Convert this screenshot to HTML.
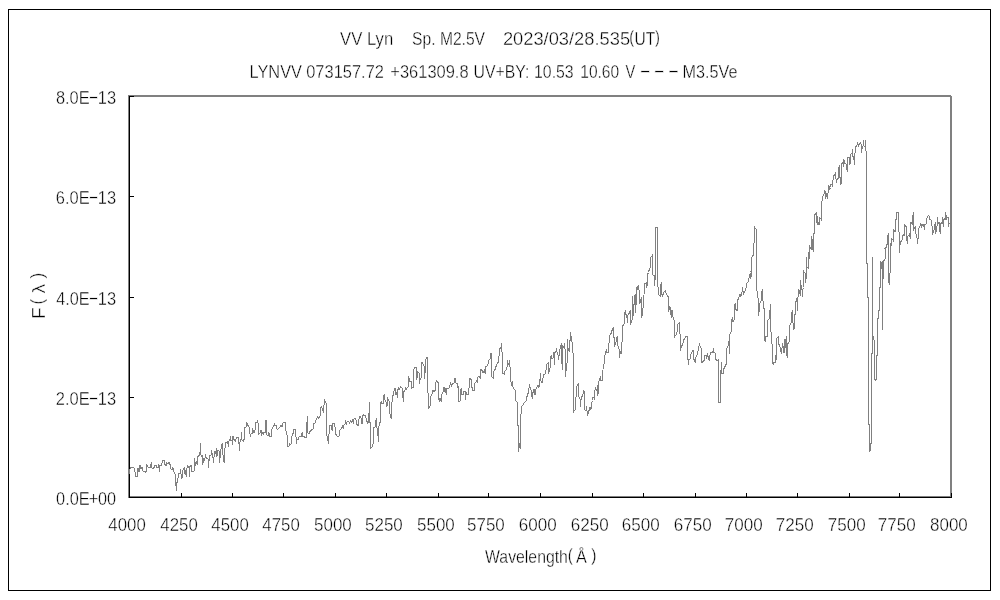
<!DOCTYPE html>
<html lang="en"><head><meta charset="utf-8"><title>VV Lyn spectrum</title>
<style>
html,body{margin:0;padding:0;background:#fff;}
body{width:1000px;height:600px;overflow:hidden;}
svg{display:block;}
text{font-family:"Liberation Sans", "IPAGothic", sans-serif;font-size:18.5px;fill:#000;stroke:#fff;stroke-width:0.4px;white-space:pre;}
svg{filter:grayscale(1);}
</style></head><body>
<svg width="1000" height="600" viewBox="0 0 1000 600">
<rect x="0" y="0" width="1000" height="600" fill="#ffffff"/>
<g shape-rendering="crispEdges">
<rect x="8.5" y="9.5" width="982" height="581" fill="none" stroke="#000" stroke-width="1"/>
<rect x="128" y="95" width="823" height="2" fill="#808080"/>
<rect x="128" y="496" width="824" height="2" fill="#808080"/>
<rect x="128" y="95" width="2" height="403" fill="#808080"/>
<rect x="950" y="96" width="2" height="402" fill="#808080"/>
<rect x="129" y="96" width="1" height="402" fill="#000"/>
<rect x="129" y="497" width="823" height="1" fill="#000"/>
<rect x="129" y="96" width="5" height="1" fill="#000"/>
<rect x="129" y="196" width="5" height="1" fill="#000"/>
<rect x="129" y="297" width="5" height="1" fill="#000"/>
<rect x="129" y="397" width="5" height="1" fill="#000"/>
<rect x="129" y="497" width="5" height="1" fill="#000"/>
<rect x="129" y="493" width="1" height="5" fill="#000"/>
<rect x="181" y="493" width="1" height="5" fill="#000"/>
<rect x="232" y="493" width="1" height="5" fill="#000"/>
<rect x="283" y="493" width="1" height="5" fill="#000"/>
<rect x="335" y="493" width="1" height="5" fill="#000"/>
<rect x="386" y="493" width="1" height="5" fill="#000"/>
<rect x="438" y="493" width="1" height="5" fill="#000"/>
<rect x="488" y="493" width="1" height="5" fill="#000"/>
<rect x="540" y="493" width="1" height="5" fill="#000"/>
<rect x="592" y="493" width="1" height="5" fill="#000"/>
<rect x="643" y="493" width="1" height="5" fill="#000"/>
<rect x="695" y="493" width="1" height="5" fill="#000"/>
<rect x="746" y="493" width="1" height="5" fill="#000"/>
<rect x="797" y="493" width="1" height="5" fill="#000"/>
<rect x="849" y="493" width="1" height="5" fill="#000"/>
<rect x="899" y="493" width="1" height="5" fill="#000"/>
<rect x="951" y="493" width="1" height="5" fill="#000"/>
</g>
<polyline fill="none" stroke="#808080" stroke-width="1" stroke-linejoin="miter" shape-rendering="crispEdges" points="129,474.5 129.2,471 130.8,467.5 134,468 135,472 135.8,476.5 137.5,476.5 138,468 139,472 140,465.5 141,468.5 142,467.5 143,471 145,471.2 146,472.5 146.5,464.5 147.5,466 148.5,467.5 150.5,467.5 151.2,462.5 151.8,467.5 153,469 154,467.5 155,465.5 156,465 156.8,467.5 158.5,467.5 158.7,464.5 159.5,471.5 160,465 161.5,465 162.5,460.5 164.5,460.5 165,464.5 166,465.5 166.8,463 168,464 169,462.5 170,464.5 171,469 172,469.5 173,467.5 173.8,471.5 175,474 175.8,483 176.3,490.5 176.5,483 177.5,482 178.5,474 180,473 180.5,469.5 181.5,478.5 182.5,477 183,470 184.5,467.5 185,474 185.5,470 186.2,476.5 187,468 187.5,465.5 189,467.5 189.5,476.5 190,466.5 191,465 191.8,471 194,471 194.5,458.5 195.5,464.5 196.5,462 197.2,465 197.8,456.5 199,455.5 200,452.5 200.5,443 200.8,455 201.8,456.5 202.5,455.5 202.8,465 203.5,459 204.5,460 205.5,455.5 206.5,458 208,458.5 208.5,467.5 209.5,455 211,455 211.5,451.5 212.5,454 213.5,462.5 214.5,451.5 215.5,453 216.5,448.5 217,456.5 218,450.5 219,451 219.5,462.5 220.5,453 221.5,445 222.5,443 223,455 224.2,463 224.6,452 225.5,443 227.5,441.5 228.5,446.5 229,441 230.5,437.5 231,441 232,440 232.5,444.5 233,436.5 234,439.5 235.5,441.5 236.5,437.5 238.5,437.5 239,444 239.5,450.5 240,442 241,439.5 241.5,432.5 242,440 243.5,441 244.2,439 244.5,427.5 246,427 246.5,422 248,425.5 249,427 249.8,432.5 250.5,436.5 251.2,433 252,434 252.5,429.5 254,432.5 255,430 255.5,422.5 257,422 257.5,420 258,422.5 258.5,434.5 260,433.5 260.5,430.5 261.5,430.5 261.8,434.5 262.5,433 263.5,434.5 264,432.5 265.5,432.5 265.8,420.5 266.5,420.5 266.8,434.5 268,436 269,432.5 269.5,436.5 271.2,436.5 271.5,430.5 272.5,427.5 274,425.5 274.5,423 275,425.5 276,425.5 276.5,428.5 277.5,429.5 279,428 280,427 281,425.5 282,427 282.8,423.5 283.5,422.2 285,422.5 285.5,425 286,431 287,435 287.5,437.5 287.8,446.5 289,446 289.5,443.5 291,444.5 291.5,437.5 292.5,435 293.5,432 294,429.5 295.5,429.5 296,436.5 296.5,443.5 297,439 298.5,439 299,437 300,436 301.5,436 302.2,432.5 302.8,436.5 304.5,436.5 305,437.5 306.5,437.5 306.8,425 307.5,416 307.8,433 309,434 310,431.5 311.5,430 313,429.5 313.5,424 314.8,423.5 315,423 316,420 317.5,416.5 318.5,418 320,416.5 320.5,408 321.5,406.5 322.5,409.5 323.5,411.5 324,405 324.5,399.5 325.5,402.5 326.5,403.5 326.8,435 327.5,439 328.5,443.5 329,434 329.5,425.5 331,425 331.5,429 332.2,430 332.5,423.5 334,423.5 335,427 335.5,434 337,436 339,436.5 339.5,431 341,429 342.5,426.5 343.2,429 343.8,425 345,424 345.5,420.5 346.2,425 347,422 348.5,421.5 349.5,423 350.5,421 351.5,422.5 352.5,420 353.5,423.5 354,419 355,418.5 356,420 357,424.5 358.2,425.5 359,419 360,416.5 361,417.5 361.5,423.5 362.2,423.5 362.5,416 363.5,415 365,415.5 366,417.5 366.5,421 367.5,422 368,423.5 368.5,413.5 369.2,413 369.5,402 369.8,422 370.5,423.5 370.6,448 372,447 373,444 373.5,427.5 375,427 375.5,421.5 376.2,420 376.8,427 377.8,430 378.2,441.5 378.6,428 379.5,424 380.2,422 380.5,403 381.5,402 382.2,404 383.2,403.5 383.5,395.5 384.2,395 384.8,400 386,402 386.5,406.5 387.2,406 387.5,397.5 388.5,400 389.2,401.5 389.5,413 390.5,415 391.2,418.5 391.8,410 392.2,395.5 393.8,395 394.2,388 395.5,388.5 396,394.5 396.8,393 397.5,397.5 398,389.5 398.8,387.5 399.5,389 400.5,387 401.8,387.5 402.5,389.5 402.8,397 403.5,401.5 403.8,392 405,390 405.8,388 406.5,389 407.2,387.5 408.2,387 408.5,376.5 409.5,379.5 410,381.5 411.2,381.5 411.5,388.5 413.2,387.5 413.5,370 414.5,367.5 416.2,367.5 416.8,380 417.5,372 419,373 419.5,383.5 420.2,379 421.2,377.5 421.5,362.5 422.5,363 423.5,365.5 424.5,366.5 424.8,378.5 425.5,360 426.5,358 427.5,357.5 427.8,392.5 428.6,393.5 428.6,408.8 430.4,405 430.5,397.5 431.5,395 432.5,392.5 433,390.5 434,391.5 435.2,390.5 435.5,383.5 436.5,380.5 437.8,382.5 438.5,383 438.8,399.5 439.5,401.5 440,398 441.2,401.5 441.5,394.5 442.5,393 443.5,390.5 444,387.5 444.8,391 445.5,389.5 446.2,394.5 446.5,389 448,388.5 449.2,388 449.8,385.5 450.5,383.5 451.5,385.5 452.5,383.5 454,383 454.8,378.5 455.5,378.5 456,383 457.5,383.5 458,387.5 458.5,386.5 459,402 460.5,401.5 460.8,389 461.5,388.5 461.8,394.5 463.5,394 463.8,391.5 465,391 465.5,399.5 466,392 466.8,394.5 468.2,394.5 468.5,388.5 469.5,387.5 469.8,378.5 471,379.5 471.8,380.5 472,387.5 472.8,390.5 474.5,390.5 474.8,383.5 476,382 476.8,380.5 477.5,383 478,377 479.5,376.5 480.5,378.5 480.8,369.5 482,370.5 483,373 483.8,371.5 484.5,370 485.2,373.5 485.5,367 487,366 488,364.5 488.8,360 490,359 490.5,353.5 491.5,353.5 491.8,376.5 493.5,378.5 493.8,371.5 495,369.5 496.5,365 497.5,363 498.5,362 498.8,356.5 499.5,355.5 500,348.5 501,347 501.5,343 501.8,351.5 502.5,352.5 502.8,373.5 504.5,374 505,371 506.2,369.5 507,367.5 507.2,361.5 507.8,360.5 508.2,364.5 508.8,364.5 509.5,360 509.8,366.5 510.5,367.5 510.8,381.5 511.8,385.5 512.5,381.5 513,387 514.5,389.5 515.5,390.5 515.8,401 517,402 517.5,413 517.8,425.5 518.4,425.5 518.6,451.8 519.5,443.3 520.5,448.8 520.2,414.5 521,414 521.5,407 523,405 524.5,402.5 526,401.5 526.5,397.5 527.8,395 528.5,390 529.5,385.5 530.5,388 531.5,391.5 532.2,399 533,392.5 534,389 535,395 535.5,390.5 536.5,388 538,385 539,387.5 539.8,381.5 540.5,373.5 540.8,381 542,383 542.5,381.5 543.5,375 545,374 545.5,370.5 546.2,369.5 546.5,364.5 547.5,363.5 548.5,362.5 548.8,373.5 549.5,370 550.2,367.5 550.5,357 551.5,355.5 552,359 553.5,357.5 554,352.5 554.5,364.5 554.8,352.5 556,351.5 556.5,348.5 557.2,353.5 558.2,355 558.8,359.5 559.2,352.5 559.8,351.5 560.2,346.5 561,345 561.5,343.5 562,364 562.5,369.5 562.8,346 564,347.5 564.5,343.5 565,348.5 565.5,376.5 566.2,364.5 566.5,371 567,364 567.5,339.5 568,348.5 568.8,349.5 569.2,352 569.8,343 570.5,332 571,341 571.5,336.5 572,342 572.8,342.5 573.2,362 574,362.5 573.8,411.5 575.2,410 575.5,397.5 576.5,396.5 576.8,386.5 577.8,384.5 578.5,383.5 578.8,396.5 580,398.5 580.5,406.5 581.2,398 582,396.5 583,394.5 583.5,390 584.5,392.5 584.8,409.5 586,411 586.5,406.5 587.2,412.5 587.8,415.5 588.2,412 589.5,409.5 590,407 591,409.5 591.5,403.5 592.5,400.5 592.8,397.5 594,397.5 594.5,399.5 594.8,390.5 595.5,387.5 596.2,390.5 596.8,389 597.5,395.5 598,385 598.5,394 598.8,381.5 599.8,379.5 600.5,376 601,380.5 602.5,380.5 602.8,370 603.5,369.5 604.8,356 605.5,352.5 606.5,350 606.8,352 608.2,352 608.5,343.5 609.5,342.5 609.8,335 611,333.5 612,330.5 613.2,327.5 613.5,336.5 614.5,338.5 614.8,345.5 615.8,344 616.2,340 617.2,336.5 617.5,344.5 618.5,347.5 619.5,351 619.8,357.5 620.2,351.5 621.2,353 621.5,342.5 622.2,341.5 622.5,326.5 623.5,324.5 624.2,323.5 624.5,313 625.2,311.5 625.8,314.5 626.8,315.5 627.5,322.5 628,315 629,313.5 630.2,310.5 630.5,324.5 631.5,321.5 632.2,319.5 632.5,296 633.3,315.5 634.5,297 635.5,294 635.8,313 636.5,287.5 637.5,289 638.2,285.5 638.8,289.5 639.5,290.5 639.8,303 640.5,302 641.2,297.5 641.8,317.5 643.5,305 643.8,295 644.5,294.5 644.8,283.5 646.2,283 646.5,287.5 647.2,285.5 647.5,274.5 648.5,272.5 649.5,268.5 650.5,267.5 650.8,257.5 652.2,255.5 652.8,275 654.2,275.5 654.8,285.5 655.2,276 655.5,276 655.5,227.5 657.5,227.5 657.5,286 658.5,287.5 658.8,294.5 660.2,296 660.5,285 661.5,282.5 661.8,294 662.8,296.5 663.5,293 664.5,291.5 665.5,290.5 666.2,294 667.5,295.5 668.5,297.5 668.8,311.5 669.5,306.5 670.5,307.5 671.2,317.5 672,310 672.8,316 673.5,319.5 674.5,320.5 674.8,336.5 676,335 677,332 677.8,324.5 679.5,322.5 679.8,333.5 680.5,334.5 680.8,350.5 681.2,345.5 682.8,346 683.2,340 684.5,339.5 685.5,336.5 687.5,336.5 687.8,357.5 688.5,364.5 689,359.5 690,359 691.2,353 692.5,351 693.5,350.5 694,359.5 695.2,362 695.8,357.5 697,355 698.5,349 699.5,343.5 700.2,347 701.2,348.5 701.5,362 702.8,362.5 703.2,360.5 704.5,360 704.8,355.5 706.2,355.5 706.8,359 707.5,353.5 708.2,357.5 709.2,360 709.8,355.5 710.8,352.5 712,353 713,351.5 713.5,348.5 714,352.5 715.2,353 715.5,359 716.5,360 717.8,360 718.2,362.5 718.5,359.5 718.6,402.2 720.4,402.2 720.5,370.5 721.2,372 721.5,362.5 721.8,373.5 723.2,373.5 723.8,369 724.8,367 725.2,364.5 725.8,366 726.5,365.5 726.8,348.5 728,346.5 728.5,341.5 729,343.5 729.5,353.5 729.8,334.5 731,332 731.5,331.5 731.8,322.5 731.2,321.5 732.2,318.5 732.8,321.5 734.5,320.5 734.8,304.5 735.5,303.5 735.8,309.5 737.2,310.5 737.5,300.5 738.5,298.5 739.5,295 740.5,294.5 741,296.5 742.2,291.5 742.5,287.5 743.5,294.5 744.5,291.5 745.5,290 746.2,287.5 746.8,283.5 747.8,282.5 748.8,281.5 749.2,275.5 750.2,274.5 750.5,278.5 751.2,276.5 751.6,272 750.5,271.5 751.2,271 751.5,257.5 752.5,256 753.2,255.5 753.5,243.5 754.2,242.5 754.5,226.5 755.2,228.5 756.5,229.5 756.5,290.5 757.2,291.5 757.8,297.5 758.5,300 758.8,315.5 759.5,304 760.5,302 761.5,299.5 761.8,291.5 762.5,289.5 762.8,301 763.5,302 763.8,308.5 764.8,309.5 764.8,339.5 765.2,341.5 765.8,336.5 767.2,336.5 767.5,320.5 768.5,319.5 769.5,318 769.8,315 770.3,304 770.5,331.5 771.5,332.5 771.8,343.5 772.5,344.5 772.8,363.5 773.5,364.5 774,362.5 775.2,362.5 775.8,355.5 776.2,359.5 776.5,338.5 777.5,337.5 778.5,336.5 778.8,344.5 779.8,345.5 780.5,349.5 781.5,353.5 781.8,348.5 782.5,347.5 782.8,343.5 783.5,352.5 784.5,352.5 784.8,339.5 785.8,339.5 786.2,356 786.5,336.5 786.8,344 787.5,357.5 787.8,344 788.5,342.5 789.5,341.5 789.8,325.5 790.8,323.5 791.8,322.5 791.5,313.5 792.5,310 792.8,322.5 793.5,324.5 794,329.5 794.5,315.5 795.2,314 795.5,302.5 796.5,300.5 796.8,298.5 797.5,310.5 797.8,297.5 798.5,295.5 799,289.5 799.5,293.5 800.2,294.5 800.5,280 801.2,287.5 802,289.5 802.5,296.5 803,289 803.5,287.5 803.8,271.5 804.5,272.5 805.3,273.5 805.5,282.5 806.2,277.5 806.2,257.5 806.8,266.5 808.2,268 808.5,252.5 809.2,259 809.5,245.5 810.5,248.5 811.5,249.5 811.8,236.5 812.5,244.5 813.2,252 813.5,233.5 814.5,233 814.5,215 815.5,214 816.5,213 816.8,222.5 817.5,216.5 818,225 818.5,222 819.2,225 819.5,217.5 820.5,218.5 821.2,219.5 821.5,201.5 822.2,200.5 822.5,196.5 823.5,195 824.2,194 824.5,191 825.5,191.5 825.8,198.5 826.5,194 827.2,194.5 827.5,198.5 828.2,191 828.5,185.5 829.2,187 829.8,189.5 830.5,187.5 830.8,184.5 831.8,184 832.5,185.5 832.8,182.5 833.5,175.5 834.8,175 835.5,173.5 836,179 836.5,182.5 837.2,179.5 838,179 838.3,168 839.2,166.5 839.5,177 840.5,178 841,184.5 841.2,163.5 842.5,163 843.2,162.5 843.5,166.5 844,159.5 844.5,163.5 845.5,163.5 846.5,164.5 846.8,168.5 847.2,171.5 847.5,157.5 848.5,157 849.2,157 849.5,164.5 850.2,163.5 850.5,154.5 851.5,153.5 852.2,153 852.5,149.5 852.8,156 853.8,158.5 854.5,164.5 854.8,159 855.2,147.5 856,146.5 857,145.5 857.5,143.5 858.5,147 859.2,143.5 860,143 860.5,142.5 861.2,144.5 861.5,152.5 862,149 862.5,146.5 863.2,145.5 863.5,140 864,146 865.2,146.5 865.5,140 865.8,150.5 866.2,151.5 866.5,152 866.5,263 867.5,263 867.5,297 868.5,297 868.5,424.5 869.5,424.5 869.5,451 870.5,450 870.5,443 871.5,443 871.5,353 872.5,353 872.5,257 872.5,336 873.5,336 874.5,343 874.5,379 875.5,380 876.5,379 876.5,355.5 877.5,355.5 877.5,318 878.5,318 878.5,310 879.5,310 879.5,287 880.5,287 880.5,261 881.5,264 881.5,269 882.5,261 882.5,329.5 882.5,278.5 883.5,278.5 883.5,261 884.5,260.5 884.5,259.5 885.5,258.5 885,248.5 886.2,247.5 886.5,245 887.2,244.5 887.5,235.5 888.5,234 888.8,283 889.5,284 889.8,274 890.2,272 890.5,244 891.2,245 891.5,238.5 892.5,239.5 893.2,240.5 893.5,229.5 894.2,231 895.5,231 895.8,219.5 896.5,219 896.8,212.5 898.5,212.5 898.8,231.5 899.5,232.5 899.6,252.5 899.8,241.5 900.5,243.5 901.2,240.5 901.8,241.5 902.5,235.5 903.5,235 904.2,235.5 904.5,224.5 905.5,225.5 906.5,227.5 906.8,240.5 907.5,243.5 907.8,236 908.8,235.5 909.5,233 910.2,238.5 910.5,222.5 911.5,223 912.5,224 912.8,216.5 913.5,212.5 913.8,229.5 914.5,228.5 915.2,226.5 915.8,233.5 916.5,236.5 917.2,238.5 917.5,243.5 918.2,237.5 918.5,228.5 919.5,227.5 920.5,224.5 921.2,227 921.8,224.5 923,225.5 923.8,224.5 924.2,229.5 924.8,224.5 926.2,224 926.5,218.5 927.5,217 928.5,215.5 929.5,216.5 930,219.5 931,220 931.5,224.5 932.2,226.5 932.5,234.5 933.2,232 934,230.5 934.5,224.5 935.2,223.5 935.5,233.5 936.2,231.5 936.8,229.5 937.5,217.5 938.2,224 939,222 939.5,227 940.2,233.5 940.5,224.5 941.5,222.5 942.2,222 942.5,217.5 943.2,226.5 943.8,220 944.5,218.5 945.2,219 945.5,212.5 946.2,216.5 946.8,219.5 947.2,217 948.2,217.5 948.5,226.5 949.2,223.5 950.5,223 951.5,222 952.5,221.5"/>
<g><text transform="translate(340,45) scale(0.903,1)">VV Lyn</text> <text transform="translate(412.1,45) scale(0.845,1)">Sp. M2.5V</text> <text transform="translate(502.88,45) scale(0.99,1)">2023/03/28.535</text><text transform="translate(629.31,43) scale(0.801,1)">(</text><text transform="translate(634.43,45) scale(0.84,1)">UT</text><text transform="translate(654.93,43) scale(0.801,1)">)</text></g>
<g><text transform="translate(249.49,78) scale(0.886,1)">LYNVV</text> <text transform="translate(306.22,78) scale(0.889,1)">073157.72</text> <text transform="translate(390.26,78) scale(0.891,1)">+361309.8</text> <text transform="translate(473.61,78) scale(0.855,1)">UV+BY:</text> <text transform="translate(534.01,78) scale(0.857,1)">10.53</text> <text transform="translate(580.23,78) scale(0.841,1)">10.60</text> <text transform="translate(625.6,78) scale(0.797,1)">V</text> <text transform="translate(639.36,77) scale(1.946,1)">-</text> <text transform="translate(653.16,77) scale(1.946,1)">-</text> <text transform="translate(667.56,77) scale(1.946,1)">-</text> <text transform="translate(682.5,78) scale(0.876,1)">M3.5Ve</text></g>
<g><text transform="translate(55.94,104) scale(0.887,1)">8.0E</text><text transform="translate(88.22,103) scale(1.73,1)">-</text><text transform="translate(97.76,104) scale(0.891,1)">13</text></g>
<g><text transform="translate(55.78,204) scale(0.891,1)">6.0E</text><text transform="translate(88.22,203) scale(1.73,1)">-</text><text transform="translate(97.76,204) scale(0.891,1)">13</text></g>
<g><text transform="translate(56.28,305) scale(0.878,1)">4.0E</text><text transform="translate(88.22,304) scale(1.73,1)">-</text><text transform="translate(97.76,305) scale(0.891,1)">13</text></g>
<g><text transform="translate(55.78,405) scale(0.891,1)">2.0E</text><text transform="translate(88.22,404) scale(1.73,1)">-</text><text transform="translate(97.76,405) scale(0.891,1)">13</text></g>
<g><text transform="translate(56.03,505) scale(0.885,1)">0.0E</text><text transform="translate(88.77,505) scale(0.883,1)">+</text><text transform="translate(97.93,505) scale(0.878,1)">00</text></g>
<g><text transform="translate(108.36,531) scale(0.909,1)">4000</text> <text transform="translate(160.36,531) scale(0.909,1)">4250</text> <text transform="translate(211.36,531) scale(0.909,1)">4500</text> <text transform="translate(262.36,531) scale(0.909,1)">4750</text> <text transform="translate(314.02,531) scale(0.918,1)">5000</text> <text transform="translate(365.02,531) scale(0.918,1)">5250</text> <text transform="translate(417.02,531) scale(0.918,1)">5500</text> <text transform="translate(467.02,531) scale(0.918,1)">5750</text> <text transform="translate(518.85,531) scale(0.922,1)">6000</text> <text transform="translate(570.85,531) scale(0.922,1)">6250</text> <text transform="translate(621.85,531) scale(0.922,1)">6500</text> <text transform="translate(673.85,531) scale(0.922,1)">6750</text> <text transform="translate(724.85,531) scale(0.922,1)">7000</text> <text transform="translate(775.85,531) scale(0.922,1)">7250</text> <text transform="translate(827.85,531) scale(0.922,1)">7500</text> <text transform="translate(877.85,531) scale(0.922,1)">7750</text> <text transform="translate(930.02,531) scale(0.918,1)">8000</text></g>
<g><text transform="translate(485,563) scale(0.855,1)">Wavelength</text><text transform="translate(567.87,561) scale(0.841,1)">(</text><text transform="translate(576,563) scale(0.878,1)">Å</text><text transform="translate(590.92,561) scale(0.901,1)">)</text></g>
<g><text transform="translate(45,317.5) rotate(-90) translate(-1.54,0) scale(1.037,1)">F</text><text transform="translate(43,317.5) rotate(-90) translate(13,0) scale(0.901,1)">(</text><text transform="translate(45,317.5) rotate(-90) translate(23.9,0) scale(1.048,1)">λ</text><text transform="translate(43,317.5) rotate(-90) translate(38.91,0) scale(0.941,1)">)</text></g>
</svg></body></html>
